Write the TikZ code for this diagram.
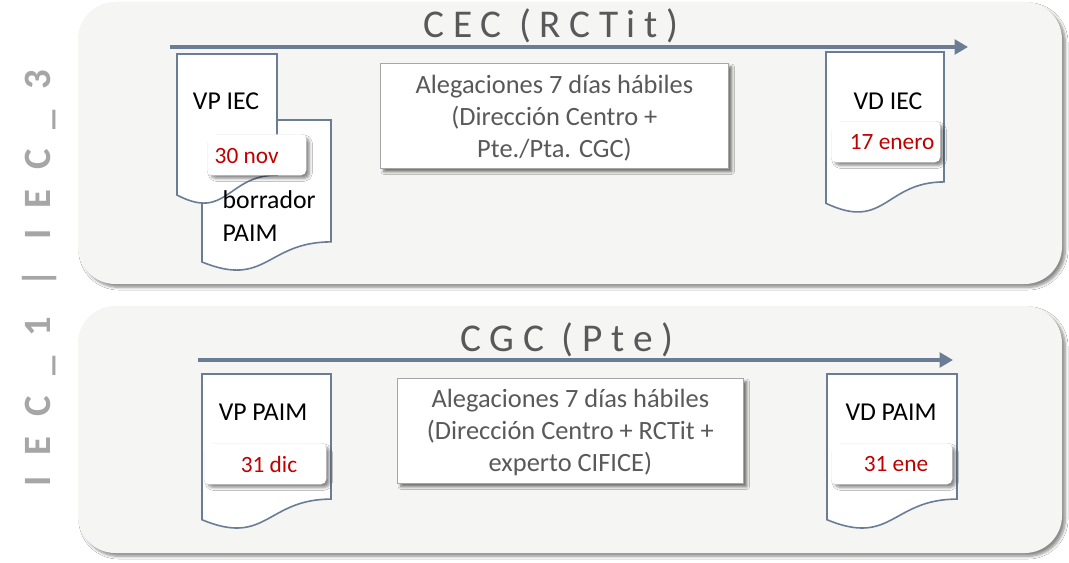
\documentclass[tikz,border=0pt]{standalone}
\usepackage{fontspec}
\setmainfont{Carlito}
\usetikzlibrary{arrows.meta,shadows,shadows.blur}
\definecolor{panelfill}{HTML}{F5F5F3}
\definecolor{slate}{HTML}{6B7D95}
\definecolor{titlegray}{HTML}{595959}
\definecolor{sidegray}{HTML}{A6A6A6}
\definecolor{datered}{HTML}{C00000}
\newcommand\docshape[5][]{%
  \draw[docline,#1] (#2,#3) -- ({#2+#4},#3) -- ({#2+#4},{#3+0.802*#5})
    .. controls ({#2+0.5*#4},{#3+0.802*#5}) and ({#2+0.5*#4},{#3+1.1075*#5}) ..
    (#2,{#3+0.934*#5}) -- cycle;}
\tikzset{
  panel/.style={fill=panelfill, draw=none, rounded corners=28,
    blur shadow={shadow xshift=2.5pt, shadow yshift=-2.5pt, shadow blur steps=6, shadow blur radius=2pt, shadow opacity=45}},
  docline/.style={draw=slate, fill=white, line width=1.2pt},
  timeline/.style={draw=slate, line width=2.4pt, -{Triangle[length=10pt,width=11pt]}},
  titletext/.style={text=titlegray, font=\fontsize{29.5}{34}\selectfont\addfontfeatures{LetterSpace=22}},
  box/.style={draw=black!35, fill=white, line width=0.6pt, anchor=north west, inner sep=0pt,
    blur shadow={shadow xshift=2.5pt, shadow yshift=-2.5pt, shadow blur steps=5, shadow blur radius=2pt, shadow opacity=55}},
  boxtext/.style={text=titlegray, align=center, font=\fontsize{19.8}{24}\selectfont},
  doctext/.style={text=black, font=\fontsize{19.3}{24.5}\selectfont},
  datebox/.style={fill=white, rounded corners=4pt, anchor=north west, inner sep=0pt,
    blur shadow={shadow xshift=2.5pt, shadow yshift=-2.5pt, shadow blur steps=5, shadow blur radius=2pt, shadow opacity=45}},
  datetext/.style={text=datered, font=\fontsize{17.5}{21}\selectfont},
}
\begin{document}
\begin{tikzpicture}[x=0.75pt,y=-0.75pt]
\useasboundingbox (0,0) rectangle (1069,563);
\fill[white] (0,0) rectangle (1069,563);
% panels
\path[panel] (78,2) rectangle (1062,284);
\path[panel] (78,306) rectangle (1062,553);
% side label
\node[rotate=90, text=sidegray, font=\fontsize{29}{34}\selectfont\bfseries\addfontfeatures{LetterSpace=53}] (side) at (40,278) {IEC\_1 | IEC\_3};
% titles
\node[titletext] (t1) at (551,26) {CEC (RCTit)};
\node[titletext] (t2) at (567,340) {CGC (Pte)};
% arrows
\coordinate (a1s) at (170,47); \coordinate (a1e) at (968,47);
\coordinate (a2s) at (198,360); \coordinate (a2e) at (953,360);
\draw[timeline] (a1s) -- (a1e);
\draw[timeline] (a2s) -- (a2e);
% --- top row documents
\docshape{202}{120}{129}{152}
\docshape{177}{54}{100}{151}
\docshape{826}{52}{118}{162}
\node[doctext, anchor=north west, align=left] (borr) at (218,186) {borrador\\PAIM};
\node[doctext] (vpiec) at (226,101) {VP IEC};
\node[doctext] (vdiec) at (888,101) {VD IEC};
\node[datebox, minimum width=99*0.75pt, minimum height=41*0.75pt] (d1) at (207,134) {};
\node[datetext, anchor=west] (d1t) at (210,156) {30 nov};
\node[datebox, minimum width=109*0.75pt, minimum height=41*0.75pt] (d2) at (831,121) {};
\node[datetext, anchor=east] (d2t) at (939,142.5) {17 enero};
% top box
\node[box, minimum width=348*0.75pt, minimum height=105*0.75pt] (b1) at (380,63) {};
\node[boxtext] (b1t) at ([yshift=-1.5pt]b1.center) {Alegaciones 7 días hábiles\\(Dirección Centro +\\Pte./Pta. CGC)};
% --- bottom row documents
\docshape{202}{374}{129}{156}
\docshape{827}{374}{130}{156}
\node[doctext] (vppaim) at (263,412) {VP PAIM};
\node[doctext] (vdpaim) at (891,412) {VD PAIM};
\node[datebox, minimum width=122*0.75pt, minimum height=41*0.75pt] (d3) at (204,443) {};
\node[datetext] (d3t) at (269,464) {31 dic};
\node[datebox, minimum width=121*0.75pt, minimum height=41*0.75pt] (d4) at (831,443) {};
\node[datetext] (d4t) at (896,464) {31 ene};
% bottom box
\node[box, minimum width=346*0.75pt, minimum height=105*0.75pt] (b2) at (397,378) {};
\node[boxtext] (b2t) at ([yshift=-1.5pt]b2.center) {Alegaciones 7 días hábiles\\(Dirección Centro + RCTit +\\experto CIFICE)};
\end{tikzpicture}
\end{document}
